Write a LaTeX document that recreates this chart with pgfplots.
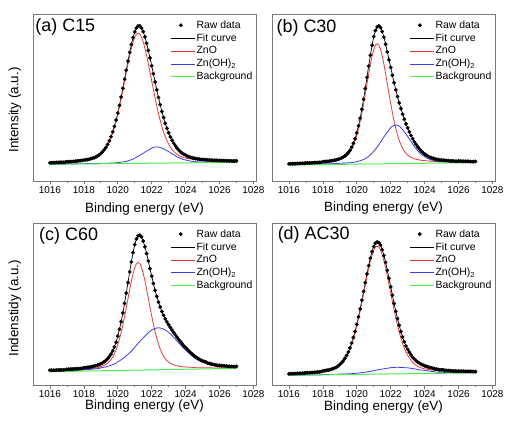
\documentclass[border=0pt]{standalone}
\usepackage{fontspec}
\setmainfont{Liberation Sans}
\usepackage{pgfplots}
\pgfplotsset{compat=1.18}
\usepackage{pgfplotstable}
\definecolor{zred}{RGB}{235,55,55}
\definecolor{zblue}{RGB}{60,60,235}
\definecolor{zgreen}{RGB}{80,235,80}
\definecolor{frame}{RGB}{120,120,120}

% x: binding energy; r: ZnO (+bg); u: Zn(OH)2 (+bg); t: fit / raw data
\pgfplotstableread{
x r u t
1016.0 0.108 0.101 0.109
1016.1 0.109 0.101 0.110
1016.2 0.109 0.101 0.110
1016.3 0.109 0.101 0.110
1016.4 0.110 0.101 0.111
1016.5 0.110 0.101 0.111
1016.6 0.111 0.101 0.112
1016.7 0.111 0.101 0.112
1016.8 0.111 0.101 0.112
1016.9 0.112 0.101 0.113
1017.0 0.114 0.102 0.115
1017.1 0.114 0.102 0.115
1017.2 0.115 0.102 0.116
1017.3 0.115 0.102 0.116
1017.4 0.116 0.102 0.117
1017.5 0.117 0.102 0.118
1017.6 0.118 0.103 0.120
1017.7 0.119 0.103 0.121
1017.8 0.120 0.103 0.122
1017.9 0.121 0.103 0.123
1018.0 0.123 0.104 0.125
1018.1 0.125 0.104 0.127
1018.2 0.126 0.104 0.128
1018.3 0.128 0.104 0.130
1018.4 0.131 0.104 0.133
1018.5 0.134 0.104 0.136
1018.6 0.137 0.104 0.139
1018.7 0.141 0.104 0.143
1018.8 0.147 0.105 0.150
1018.9 0.153 0.105 0.156
1019.0 0.162 0.106 0.165
1019.1 0.172 0.106 0.175
1019.2 0.184 0.106 0.187
1019.3 0.198 0.106 0.201
1019.4 0.216 0.106 0.219
1019.5 0.237 0.107 0.241
1019.6 0.261 0.107 0.265
1019.7 0.290 0.107 0.294
1019.8 0.322 0.108 0.327
1019.9 0.359 0.109 0.365
1020.0 0.401 0.110 0.407
1020.1 0.446 0.111 0.453
1020.2 0.494 0.113 0.503
1020.3 0.545 0.114 0.555
1020.4 0.597 0.116 0.609
1020.5 0.650 0.118 0.664
1020.6 0.701 0.121 0.718
1020.7 0.750 0.124 0.770
1020.8 0.794 0.127 0.817
1020.9 0.832 0.131 0.859
1021.0 0.861 0.137 0.893
1021.1 0.879 0.142 0.916
1021.2 0.885 0.148 0.928
1021.3 0.879 0.154 0.928
1021.4 0.861 0.160 0.916
1021.5 0.833 0.166 0.894
1021.6 0.795 0.173 0.863
1021.7 0.751 0.179 0.825
1021.8 0.702 0.185 0.782
1021.9 0.651 0.191 0.737
1022.0 0.600 0.197 0.690
1022.1 0.548 0.201 0.642
1022.2 0.497 0.203 0.593
1022.3 0.449 0.204 0.546
1022.4 0.404 0.203 0.500
1022.5 0.363 0.201 0.457
1022.6 0.326 0.197 0.416
1022.7 0.294 0.193 0.380
1022.8 0.265 0.187 0.345
1022.9 0.241 0.181 0.315
1023.0 0.221 0.176 0.289
1023.1 0.203 0.169 0.264
1023.2 0.189 0.163 0.244
1023.3 0.177 0.157 0.226
1023.4 0.167 0.151 0.210
1023.5 0.159 0.145 0.196
1023.6 0.153 0.140 0.185
1023.7 0.147 0.135 0.174
1023.8 0.143 0.131 0.166
1023.9 0.140 0.128 0.160
1024.0 0.138 0.126 0.155
1024.1 0.135 0.123 0.149
1024.2 0.133 0.121 0.145
1024.3 0.132 0.119 0.142
1024.4 0.130 0.118 0.139
1024.5 0.129 0.116 0.136
1024.6 0.128 0.115 0.134
1024.7 0.127 0.115 0.133
1024.8 0.126 0.114 0.131
1024.9 0.125 0.113 0.129
1025.0 0.125 0.114 0.129
1025.1 0.124 0.114 0.128
1025.2 0.124 0.113 0.127
1025.3 0.123 0.113 0.126
1025.4 0.123 0.113 0.126
1025.5 0.122 0.113 0.125
1025.6 0.121 0.113 0.124
1025.7 0.121 0.113 0.124
1025.8 0.121 0.113 0.124
1025.9 0.120 0.112 0.122
1026.0 0.121 0.113 0.123
1026.1 0.120 0.113 0.122
1026.2 0.120 0.113 0.122
1026.3 0.120 0.113 0.122
1026.4 0.119 0.113 0.121
1026.5 0.119 0.113 0.121
1026.6 0.119 0.113 0.121
1026.7 0.118 0.113 0.120
1026.8 0.118 0.113 0.120
1026.9 0.118 0.113 0.120
1027.0 0.119 0.114 0.121
}\tA

\pgfplotstableread{
x r u t
1016.0 0.101 0.098 0.103
1016.1 0.101 0.098 0.103
1016.2 0.101 0.098 0.103
1016.3 0.102 0.098 0.104
1016.4 0.102 0.098 0.104
1016.5 0.102 0.099 0.105
1016.6 0.102 0.099 0.105
1016.7 0.103 0.099 0.106
1016.8 0.103 0.099 0.106
1016.9 0.103 0.099 0.106
1017.0 0.105 0.100 0.108
1017.1 0.105 0.100 0.108
1017.2 0.105 0.100 0.108
1017.3 0.106 0.100 0.109
1017.4 0.106 0.100 0.109
1017.5 0.107 0.100 0.110
1017.6 0.107 0.100 0.110
1017.7 0.108 0.100 0.111
1017.8 0.108 0.100 0.111
1017.9 0.109 0.100 0.112
1018.0 0.112 0.103 0.116
1018.1 0.112 0.103 0.116
1018.2 0.113 0.103 0.117
1018.3 0.114 0.103 0.118
1018.4 0.115 0.103 0.119
1018.5 0.117 0.103 0.121
1018.6 0.118 0.104 0.123
1018.7 0.120 0.104 0.125
1018.8 0.122 0.104 0.127
1018.9 0.124 0.105 0.130
1019.0 0.128 0.106 0.134
1019.1 0.132 0.106 0.138
1019.2 0.136 0.107 0.143
1019.3 0.143 0.107 0.150
1019.4 0.151 0.108 0.159
1019.5 0.161 0.109 0.170
1019.6 0.175 0.109 0.184
1019.7 0.192 0.110 0.202
1019.8 0.214 0.112 0.226
1019.9 0.240 0.113 0.253
1020.0 0.273 0.116 0.288
1020.1 0.312 0.119 0.330
1020.2 0.356 0.121 0.376
1020.3 0.406 0.125 0.430
1020.4 0.461 0.129 0.489
1020.5 0.520 0.134 0.553
1020.6 0.581 0.141 0.621
1020.7 0.641 0.148 0.688
1020.8 0.698 0.156 0.753
1020.9 0.748 0.166 0.813
1021.0 0.788 0.178 0.864
1021.1 0.813 0.190 0.901
1021.2 0.822 0.203 0.923
1021.3 0.813 0.218 0.929
1021.4 0.788 0.233 0.919
1021.5 0.749 0.248 0.895
1021.6 0.699 0.264 0.861
1021.7 0.642 0.279 0.819
1021.8 0.582 0.293 0.773
1021.9 0.521 0.306 0.725
1022.0 0.464 0.320 0.680
1022.1 0.409 0.328 0.633
1022.2 0.359 0.333 0.588
1022.3 0.315 0.335 0.546
1022.4 0.276 0.333 0.505
1022.5 0.244 0.328 0.468
1022.6 0.218 0.320 0.434
1022.7 0.196 0.308 0.400
1022.8 0.179 0.295 0.370
1022.9 0.165 0.281 0.342
1023.0 0.156 0.267 0.318
1023.1 0.148 0.251 0.294
1023.2 0.141 0.236 0.272
1023.3 0.137 0.221 0.253
1023.4 0.133 0.206 0.234
1023.5 0.130 0.193 0.218
1023.6 0.128 0.181 0.204
1023.7 0.126 0.170 0.191
1023.8 0.124 0.160 0.179
1023.9 0.123 0.152 0.170
1024.0 0.122 0.146 0.162
1024.1 0.121 0.139 0.154
1024.2 0.120 0.134 0.148
1024.3 0.119 0.130 0.143
1024.4 0.119 0.126 0.139
1024.5 0.118 0.124 0.136
1024.6 0.117 0.121 0.132
1024.7 0.117 0.119 0.130
1024.8 0.116 0.118 0.128
1024.9 0.116 0.116 0.126
1025.0 0.116 0.116 0.125
1025.1 0.116 0.116 0.125
1025.2 0.115 0.115 0.123
1025.3 0.115 0.114 0.122
1025.4 0.115 0.114 0.122
1025.5 0.114 0.113 0.120
1025.6 0.114 0.113 0.120
1025.7 0.114 0.113 0.120
1025.8 0.113 0.112 0.118
1025.9 0.113 0.112 0.118
1026.0 0.115 0.114 0.120
1026.1 0.115 0.113 0.119
1026.2 0.114 0.113 0.118
1026.3 0.114 0.113 0.118
1026.4 0.114 0.113 0.118
1026.5 0.114 0.113 0.118
1026.6 0.114 0.113 0.118
1026.7 0.113 0.112 0.116
1026.8 0.113 0.112 0.116
1026.9 0.113 0.112 0.116
1027.0 0.114 0.113 0.117
}\tB

\pgfplotstableread{
x r u t
1016.0 0.087 0.086 0.091
1016.1 0.087 0.086 0.091
1016.2 0.087 0.086 0.091
1016.3 0.087 0.086 0.091
1016.4 0.087 0.087 0.092
1016.5 0.088 0.087 0.093
1016.6 0.088 0.087 0.093
1016.7 0.088 0.087 0.093
1016.8 0.088 0.087 0.093
1016.9 0.089 0.087 0.094
1017.0 0.091 0.090 0.097
1017.1 0.091 0.090 0.097
1017.2 0.092 0.090 0.098
1017.3 0.092 0.090 0.098
1017.4 0.092 0.091 0.099
1017.5 0.093 0.091 0.100
1017.6 0.093 0.091 0.100
1017.7 0.094 0.091 0.101
1017.8 0.094 0.092 0.102
1017.9 0.095 0.092 0.103
1018.0 0.098 0.095 0.107
1018.1 0.098 0.095 0.107
1018.2 0.099 0.096 0.109
1018.3 0.100 0.096 0.110
1018.4 0.101 0.097 0.112
1018.5 0.102 0.098 0.114
1018.6 0.104 0.099 0.117
1018.7 0.105 0.100 0.119
1018.8 0.107 0.101 0.122
1018.9 0.109 0.102 0.125
1019.0 0.114 0.106 0.132
1019.1 0.117 0.108 0.137
1019.2 0.122 0.110 0.144
1019.3 0.127 0.112 0.151
1019.4 0.135 0.115 0.162
1019.5 0.145 0.118 0.175
1019.6 0.157 0.122 0.191
1019.7 0.173 0.126 0.211
1019.8 0.193 0.130 0.235
1019.9 0.217 0.135 0.264
1020.0 0.249 0.143 0.302
1020.1 0.285 0.149 0.344
1020.2 0.325 0.156 0.391
1020.3 0.372 0.163 0.445
1020.4 0.423 0.171 0.504
1020.5 0.477 0.180 0.567
1020.6 0.533 0.189 0.632
1020.7 0.589 0.199 0.698
1020.8 0.641 0.209 0.760
1020.9 0.687 0.220 0.817
1021.0 0.726 0.233 0.867
1021.1 0.749 0.245 0.902
1021.2 0.757 0.256 0.921
1021.3 0.749 0.268 0.925
1021.4 0.726 0.280 0.914
1021.5 0.689 0.291 0.888
1021.6 0.643 0.302 0.853
1021.7 0.591 0.313 0.812
1021.8 0.535 0.322 0.765
1021.9 0.479 0.331 0.718
1022.0 0.426 0.339 0.672
1022.1 0.375 0.345 0.627
1022.2 0.328 0.349 0.584
1022.3 0.288 0.352 0.547
1022.4 0.252 0.353 0.512
1022.5 0.222 0.352 0.481
1022.6 0.198 0.349 0.454
1022.7 0.178 0.345 0.430
1022.8 0.162 0.339 0.408
1022.9 0.150 0.332 0.389
1023.0 0.142 0.325 0.372
1023.1 0.134 0.316 0.355
1023.2 0.129 0.305 0.339
1023.3 0.124 0.294 0.323
1023.4 0.121 0.283 0.309
1023.5 0.118 0.271 0.294
1023.6 0.116 0.259 0.280
1023.7 0.114 0.248 0.267
1023.8 0.113 0.236 0.254
1023.9 0.111 0.225 0.241
1024.0 0.112 0.216 0.231
1024.1 0.111 0.206 0.220
1024.2 0.110 0.196 0.209
1024.3 0.109 0.187 0.199
1024.4 0.109 0.178 0.190
1024.5 0.108 0.170 0.181
1024.6 0.107 0.163 0.173
1024.7 0.107 0.156 0.166
1024.8 0.106 0.150 0.159
1024.9 0.106 0.144 0.153
1025.0 0.107 0.141 0.149
1025.1 0.107 0.137 0.145
1025.2 0.107 0.133 0.141
1025.3 0.106 0.129 0.136
1025.4 0.106 0.126 0.133
1025.5 0.106 0.123 0.130
1025.6 0.105 0.121 0.127
1025.7 0.105 0.119 0.125
1025.8 0.105 0.117 0.123
1025.9 0.105 0.115 0.121
1026.0 0.106 0.116 0.121
1026.1 0.106 0.115 0.120
1026.2 0.106 0.114 0.119
1026.3 0.106 0.113 0.118
1026.4 0.106 0.112 0.117
1026.5 0.105 0.111 0.115
1026.6 0.105 0.111 0.115
1026.7 0.105 0.110 0.114
1026.8 0.105 0.110 0.114
1026.9 0.105 0.109 0.113
1027.0 0.107 0.111 0.115
}\tC

\pgfplotstableread{
x r u t
1016.0 0.068 0.061 0.069
1016.1 0.069 0.061 0.070
1016.2 0.069 0.061 0.070
1016.3 0.069 0.061 0.070
1016.4 0.070 0.061 0.071
1016.5 0.070 0.061 0.071
1016.6 0.071 0.061 0.072
1016.7 0.071 0.061 0.072
1016.8 0.072 0.061 0.073
1016.9 0.072 0.061 0.073
1017.0 0.074 0.062 0.075
1017.1 0.074 0.062 0.075
1017.2 0.075 0.062 0.076
1017.3 0.076 0.062 0.077
1017.4 0.076 0.062 0.077
1017.5 0.077 0.062 0.078
1017.6 0.078 0.062 0.079
1017.7 0.079 0.062 0.080
1017.8 0.080 0.062 0.081
1017.9 0.081 0.063 0.083
1018.0 0.085 0.065 0.087
1018.1 0.086 0.065 0.088
1018.2 0.088 0.065 0.090
1018.3 0.090 0.065 0.092
1018.4 0.092 0.065 0.094
1018.5 0.095 0.065 0.097
1018.6 0.099 0.065 0.101
1018.7 0.103 0.065 0.105
1018.8 0.108 0.065 0.110
1018.9 0.115 0.066 0.118
1019.0 0.124 0.067 0.127
1019.1 0.134 0.067 0.137
1019.2 0.146 0.067 0.149
1019.3 0.161 0.068 0.165
1019.4 0.178 0.068 0.182
1019.5 0.199 0.069 0.204
1019.6 0.224 0.069 0.229
1019.7 0.253 0.070 0.259
1019.8 0.286 0.071 0.293
1019.9 0.323 0.071 0.330
1020.0 0.366 0.073 0.374
1020.1 0.411 0.074 0.420
1020.2 0.460 0.075 0.470
1020.3 0.511 0.077 0.523
1020.4 0.564 0.078 0.577
1020.5 0.618 0.079 0.632
1020.6 0.670 0.081 0.686
1020.7 0.720 0.082 0.737
1020.8 0.764 0.084 0.783
1020.9 0.802 0.086 0.823
1021.0 0.833 0.089 0.855
1021.1 0.851 0.091 0.875
1021.2 0.857 0.093 0.883
1021.3 0.851 0.095 0.879
1021.4 0.833 0.097 0.863
1021.5 0.804 0.098 0.835
1021.6 0.766 0.100 0.799
1021.7 0.722 0.102 0.757
1021.8 0.672 0.103 0.708
1021.9 0.620 0.105 0.658
1022.0 0.567 0.107 0.606
1022.1 0.514 0.108 0.554
1022.2 0.463 0.108 0.503
1022.3 0.414 0.109 0.455
1022.4 0.369 0.109 0.410
1022.5 0.327 0.109 0.368
1022.6 0.290 0.108 0.330
1022.7 0.257 0.108 0.297
1022.8 0.228 0.107 0.267
1022.9 0.203 0.106 0.241
1023.0 0.184 0.106 0.220
1023.1 0.167 0.105 0.202
1023.2 0.152 0.103 0.185
1023.3 0.140 0.101 0.171
1023.4 0.130 0.100 0.160
1023.5 0.122 0.098 0.150
1023.6 0.115 0.096 0.141
1023.7 0.110 0.094 0.134
1023.8 0.106 0.092 0.128
1023.9 0.102 0.091 0.123
1024.0 0.100 0.090 0.119
1024.1 0.098 0.088 0.115
1024.2 0.096 0.087 0.112
1024.3 0.094 0.085 0.108
1024.4 0.093 0.084 0.106
1024.5 0.091 0.083 0.103
1024.6 0.090 0.081 0.100
1024.7 0.089 0.080 0.098
1024.8 0.088 0.079 0.096
1024.9 0.087 0.078 0.094
1025.0 0.087 0.079 0.094
1025.1 0.087 0.078 0.093
1025.2 0.086 0.077 0.091
1025.3 0.085 0.077 0.090
1025.4 0.085 0.076 0.089
1025.5 0.084 0.076 0.088
1025.6 0.084 0.075 0.087
1025.7 0.083 0.075 0.086
1025.8 0.083 0.075 0.086
1025.9 0.082 0.075 0.085
1026.0 0.084 0.076 0.086
1026.1 0.083 0.076 0.085
1026.2 0.083 0.076 0.085
1026.3 0.083 0.076 0.085
1026.4 0.082 0.076 0.084
1026.5 0.082 0.076 0.084
1026.6 0.082 0.076 0.084
1026.7 0.082 0.076 0.084
1026.8 0.081 0.076 0.083
1026.9 0.081 0.076 0.083
1027.0 0.082 0.076 0.083
}\tD

\pgfplotsset{
  xps/.style={
    scale only axis, width=223bp,
    xmin=1015, xmax=1028.15, ymin=0, ymax=1,
    xtick={1016,1018,...,1028}, minor xtick={1017,1019,...,1027},
    ytick=\empty, xtick pos=left, tick align=outside,
    major tick length=3.5bp, minor tick length=2bp,
    axis line style={frame, line width=0.8bp},
    every tick/.style={frame, line width=0.7bp},
    /pgf/number format/assume math mode=true,
    /pgf/number format/1000 sep={},
    xticklabel style={font=\fontsize{10}{12}\selectfont, inner sep=1.5bp},
    label style={font=\fontsize{13.5}{16}\selectfont},
    legend cell align=left,
    legend style={draw=none, fill=none, font=\fontsize{10.5}{12}\selectfont,
      at={(axis description cs:0.615,0.968)}, anchor=north west,
      inner sep=0pt, row sep=1.5bp,
      nodes={inner sep=1.2bp}},
    legend image code/.code={\draw[#1] (0bp,0bp) -- (24bp,0bp);},
    clip=false,
  },
  rawd/.style={only marks, mark=*, mark size=1.7bp, black,
    legend image code/.code={\draw[#1] plot coordinates {(10bp,0bp)};}},
  fitc/.style={black, line width=0.7bp, no marks},
  zno/.style={zred, line width=0.8bp, no marks},
  znoh/.style={zblue, line width=0.8bp, no marks},
  bgl/.style={zgreen, line width=1bp, no marks},
}

\begin{document}
\begin{tikzpicture}
\path[use as bounding box] (0bp,0bp) rectangle (506bp,421bp);

% (a)
\begin{axis}[xps, height=167bp, at={(33bp,240bp)}, anchor=south west,
  xlabel={Binding energy (eV)}, ylabel={Intensity (a.u.)},
  xlabel style={at={(axis description cs:0.5,-0.168)}, anchor=center},
  ylabel style={at={(axis description cs:-0.081,0.425)}, anchor=center}]
\addplot[rawd] table[x=x,y=t]{\tA}; \addlegendentry{Raw data}
\addplot[fitc] table[x=x,y=t]{\tA}; \addlegendentry{Fit curve}
\addplot[zno] table[x=x,y=r]{\tA}; \addlegendentry{ZnO}
\addplot[znoh] table[x=x,y=u]{\tA}; \addlegendentry{Zn(OH)\textsubscript{2}}
\addplot[bgl] coordinates {(1016,0.100) (1027,0.112)}; \addlegendentry{Background}
\node[anchor=west, font=\fontsize{18}{20}\selectfont, inner sep=0pt] at (axis description cs:0.01,0.92) {(a) C15};
\end{axis}

% (b)
\begin{axis}[xps, height=167bp, at={(272bp,240bp)}, anchor=south west,
  xlabel={Binding energy (eV)},
  xlabel style={at={(axis description cs:0.5,-0.16)}, anchor=center}]
\addplot[rawd] table[x=x,y=t]{\tB}; \addlegendentry{Raw data}
\addplot[fitc] table[x=x,y=t]{\tB}; \addlegendentry{Fit curve}
\addplot[zno] table[x=x,y=r]{\tB}; \addlegendentry{ZnO}
\addplot[znoh] table[x=x,y=u]{\tB}; \addlegendentry{Zn(OH)\textsubscript{2}}
\addplot[bgl] coordinates {(1016,0.096) (1027,0.110)}; \addlegendentry{Background}
\node[anchor=west, font=\fontsize{18}{20}\selectfont, inner sep=0pt] at (axis description cs:0.02,0.916) {(b) C30};
\end{axis}

% (c)
\begin{axis}[xps, height=162bp, at={(33bp,36bp)}, anchor=south west,
  xlabel={Binding energy (eV)}, ylabel={Indenstidy (a.u.)},
  xlabel style={at={(axis description cs:0.5,-0.13)}, anchor=center},
  ylabel style={at={(axis description cs:-0.081,0.475)}, anchor=center}]
\addplot[rawd] table[x=x,y=t]{\tC}; \addlegendentry{Raw data}
\addplot[fitc] table[x=x,y=t]{\tC}; \addlegendentry{Fit curve}
\addplot[zno] table[x=x,y=r]{\tC}; \addlegendentry{ZnO}
\addplot[znoh] table[x=x,y=u]{\tC}; \addlegendentry{Zn(OH)\textsubscript{2}}
\addplot[bgl] coordinates {(1016,0.082) (1027,0.103)}; \addlegendentry{Background}
\node[anchor=west, font=\fontsize{18}{20}\selectfont, inner sep=0pt] at (axis description cs:0.027,0.92) {(c) C60};
\end{axis}

% (d)
\begin{axis}[xps, height=162bp, at={(272bp,36bp)}, anchor=south west,
  xlabel={Binding energy (eV)},
  xlabel style={at={(axis description cs:0.5,-0.134)}, anchor=center}]
\addplot[rawd] table[x=x,y=t]{\tD}; \addlegendentry{Raw data}
\addplot[fitc] table[x=x,y=t]{\tD}; \addlegendentry{Fit curve}
\addplot[zno] table[x=x,y=r]{\tD}; \addlegendentry{ZnO}
\addplot[znoh] table[x=x,y=u]{\tD}; \addlegendentry{Zn(OH)\textsubscript{2}}
\addplot[bgl] coordinates {(1016,0.060) (1027,0.075)}; \addlegendentry{Background}
\node[anchor=west, font=\fontsize{18}{20}\selectfont, inner sep=0pt] at (axis description cs:0.025,0.926) {(d) AC30};
\end{axis}
\end{tikzpicture}
\end{document}
